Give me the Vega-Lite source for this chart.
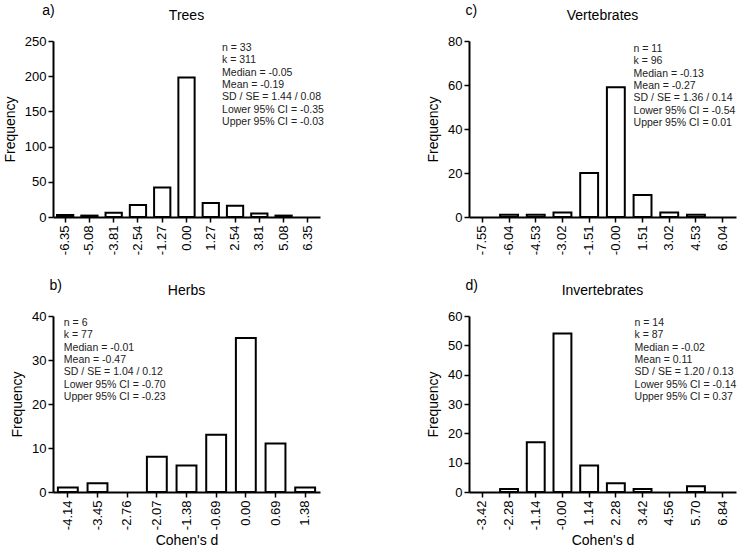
{
  "$schema": "https://vega.github.io/schema/vega-lite/v6.json",
  "padding": {"top": 4, "left": 3, "right": 3, "bottom": 3},
  "background": "white",
  "config": {
    "font": "Liberation Sans",
    "view": {"stroke": null},
    "axis": {
      "grid": false,
      "domainColor": "black",
      "domainWidth": 2,
      "tickColor": "black",
      "tickWidth": 1.5,
      "tickSize": 5,
      "labelColor": "black",
      "labelFont": "Liberation Sans",
      "labelFontSize": 13,
      "labelPadding": 2,
      "labelOverlap": false,
      "titleFont": "Liberation Sans",
      "titleFontSize": 14,
      "titleFontWeight": "normal",
      "titleColor": "black"
    },
    "axisX": {"labelAngle": -90, "labelPadding": 3},
    "axisY": {"titlePadding": 7, "labelOverlap": false},
    "title": {"font": "Liberation Sans", "fontSize": 14, "fontWeight": "normal", "color": "black"}
  },
  "datasets": {
    "trees": [
      {"d": "-6.35", "freq": 3}, {"d": "-5.08", "freq": 2}, {"d": "-3.81", "freq": 6},
      {"d": "-2.54", "freq": 17}, {"d": "-1.27", "freq": 42}, {"d": "0.00", "freq": 198},
      {"d": "1.27", "freq": 20}, {"d": "2.54", "freq": 16}, {"d": "3.81", "freq": 5},
      {"d": "5.08", "freq": 2}, {"d": "6.35", "freq": 0}
    ],
    "herbs": [
      {"d": "-4.14", "freq": 1}, {"d": "-3.45", "freq": 2}, {"d": "-2.76", "freq": 0},
      {"d": "-2.07", "freq": 8}, {"d": "-1.38", "freq": 6}, {"d": "-0.69", "freq": 13},
      {"d": "0.00", "freq": 35}, {"d": "0.69", "freq": 11}, {"d": "1.38", "freq": 1}
    ],
    "vertebrates": [
      {"d": "-7.55", "freq": 0}, {"d": "-6.04", "freq": 1}, {"d": "-4.53", "freq": 1},
      {"d": "-3.02", "freq": 2}, {"d": "-1.51", "freq": 20}, {"d": "-0.00", "freq": 59},
      {"d": "1.51", "freq": 10}, {"d": "3.02", "freq": 2}, {"d": "4.53", "freq": 1},
      {"d": "6.04", "freq": 0}
    ],
    "invertebrates": [
      {"d": "-3.42", "freq": 0}, {"d": "-2.28", "freq": 1}, {"d": "-1.14", "freq": 17},
      {"d": "-0.00", "freq": 54}, {"d": "1.14", "freq": 9}, {"d": "2.28", "freq": 3},
      {"d": "3.42", "freq": 1}, {"d": "4.56", "freq": 0}, {"d": "5.70", "freq": 2},
      {"d": "6.84", "freq": 0}
    ],
    "stats_trees": [{"stats": ["n = 33", "k = 311", "Median = -0.05", "Mean = -0.19", "SD / SE = 1.44 / 0.08", "Lower 95% CI = -0.35", "Upper 95% CI = -0.03"]}],
    "stats_herbs": [{"stats": ["n = 6", "k = 77", "Median = -0.01", "Mean = -0.47", "SD / SE = 1.04 / 0.12", "Lower 95% CI = -0.70", "Upper 95% CI = -0.23"]}],
    "stats_vertebrates": [{"stats": ["n = 11", "k = 96", "Median = -0.13", "Mean = -0.27", "SD / SE = 1.36 / 0.14", "Lower 95% CI = -0.54", "Upper 95% CI = 0.01"]}],
    "stats_invertebrates": [{"stats": ["n = 14", "k = 87", "Median = -0.02", "Mean = 0.11", "SD / SE = 1.20 / 0.13", "Lower 95% CI = -0.14", "Upper 95% CI = 0.37"]}]
  },
  "spacing": 102,
  "hconcat": [
    {
      "spacing": 24,
      "vconcat": [
        {
          "title": {"text": "a)", "anchor": "start", "offset": -9, "dx": 39},
          "vconcat": [
            {
              "title": {"text": "Trees", "offset": 12},
              "width": 267,
              "height": 176,
              "layer": [
                {
                  "data": {"name": "trees"},
                  "mark": {"type": "bar", "fill": "white", "stroke": "black", "strokeWidth": 2},
                  "encoding": {
                    "x": {"field": "d", "type": "nominal", "sort": null, "title": null,
                          "scale": {"paddingInner": 0.33, "paddingOuter": 0.165}},
                    "y": {"field": "freq", "type": "quantitative", "title": "Frequency",
                          "scale": {"domain": [0, 250], "nice": false},
                          "axis": {"values": [0, 50, 100, 150, 200, 250], "labelOverlap": false}},
                    "strokeOpacity": {"condition": {"test": "datum.freq == 0", "value": 0}, "value": 1}
                  }
                },
                {
                  "data": {"name": "stats_trees"},
                  "mark": {"type": "text", "align": "left", "baseline": "top", "fontSize": 10.5, "lineHeight": 12.3, "color": "#222", "dx": -13, "dy": 2},
                  "encoding": {
                    "x": {"datum": "2.54", "type": "nominal"},
                    "y": {"datum": 250, "type": "quantitative",
                          "axis": {"values": [0, 50, 100, 150, 200, 250], "labelOverlap": false}},
                    "text": {"field": "stats"}
                  }
                }
              ]
            }
          ]
        },
        {
          "title": {"text": "b)", "anchor": "start", "offset": -9, "dx": 39},
          "vconcat": [
            {
              "title": {"text": "Herbs", "offset": 12},
              "width": 267,
              "height": 176,
              "layer": [
                {
                  "data": {"name": "herbs"},
                  "mark": {"type": "bar", "fill": "white", "stroke": "black", "strokeWidth": 2},
                  "encoding": {
                    "x": {"field": "d", "type": "nominal", "sort": null, "title": "Cohen's d",
                          "scale": {"paddingInner": 0.33, "paddingOuter": 0.165}},
                    "y": {"field": "freq", "type": "quantitative", "title": "Frequency",
                          "scale": {"domain": [0, 40], "nice": false},
                          "axis": {"values": [0, 10, 20, 30, 40], "labelOverlap": false}},
                    "strokeOpacity": {"condition": {"test": "datum.freq == 0", "value": 0}, "value": 1}
                  }
                },
                {
                  "data": {"name": "stats_herbs"},
                  "mark": {"type": "text", "align": "left", "baseline": "top", "fontSize": 10.5, "lineHeight": 12.3, "color": "#222", "dx": -4, "dy": 2},
                  "encoding": {
                    "x": {"datum": "-4.14", "type": "nominal"},
                    "y": {"datum": 40, "type": "quantitative",
                          "axis": {"values": [0, 10, 20, 30, 40], "labelOverlap": false}},
                    "text": {"field": "stats"}
                  }
                }
              ]
            }
          ]
        }
      ]
    },
    {
      "spacing": 24,
      "vconcat": [
        {
          "title": {"text": "c)", "anchor": "start", "offset": -9, "dx": 39},
          "vconcat": [
            {
              "title": {"text": "Vertebrates", "offset": 12},
              "width": 267,
              "height": 176,
              "layer": [
                {
                  "data": {"name": "vertebrates"},
                  "mark": {"type": "bar", "fill": "white", "stroke": "black", "strokeWidth": 2},
                  "encoding": {
                    "x": {"field": "d", "type": "nominal", "sort": null, "title": null,
                          "scale": {"paddingInner": 0.33, "paddingOuter": 0.165}},
                    "y": {"field": "freq", "type": "quantitative", "title": "Frequency",
                          "scale": {"domain": [0, 80], "nice": false},
                          "axis": {"values": [0, 20, 40, 60, 80], "labelOverlap": false}},
                    "strokeOpacity": {"condition": {"test": "datum.freq == 0", "value": 0}, "value": 1}
                  }
                },
                {
                  "data": {"name": "stats_vertebrates"},
                  "mark": {"type": "text", "align": "left", "baseline": "top", "fontSize": 10.5, "lineHeight": 12.3, "color": "#222", "dx": -9, "dy": 3},
                  "encoding": {
                    "x": {"datum": "1.51", "type": "nominal"},
                    "y": {"datum": 80, "type": "quantitative",
                          "axis": {"values": [0, 20, 40, 60, 80], "labelOverlap": false}},
                    "text": {"field": "stats"}
                  }
                }
              ]
            }
          ]
        },
        {
          "title": {"text": "d)", "anchor": "start", "offset": -9, "dx": 39},
          "vconcat": [
            {
              "title": {"text": "Invertebrates", "offset": 12},
              "width": 267,
              "height": 176,
              "layer": [
                {
                  "data": {"name": "invertebrates"},
                  "mark": {"type": "bar", "fill": "white", "stroke": "black", "strokeWidth": 2},
                  "encoding": {
                    "x": {"field": "d", "type": "nominal", "sort": null, "title": "Cohen's d",
                          "scale": {"paddingInner": 0.33, "paddingOuter": 0.165}},
                    "y": {"field": "freq", "type": "quantitative", "title": "Frequency",
                          "scale": {"domain": [0, 60], "nice": false},
                          "axis": {"values": [0, 10, 20, 30, 40, 50, 60], "labelOverlap": false}},
                    "strokeOpacity": {"condition": {"test": "datum.freq == 0", "value": 0}, "value": 1}
                  }
                },
                {
                  "data": {"name": "stats_invertebrates"},
                  "mark": {"type": "text", "align": "left", "baseline": "top", "fontSize": 10.5, "lineHeight": 12.3, "color": "#222", "dx": -8, "dy": 2},
                  "encoding": {
                    "x": {"datum": "3.42", "type": "nominal"},
                    "y": {"datum": 60, "type": "quantitative",
                          "axis": {"values": [0, 10, 20, 30, 40, 50, 60], "labelOverlap": false}},
                    "text": {"field": "stats"}
                  }
                }
              ]
            }
          ]
        }
      ]
    }
  ]
}
